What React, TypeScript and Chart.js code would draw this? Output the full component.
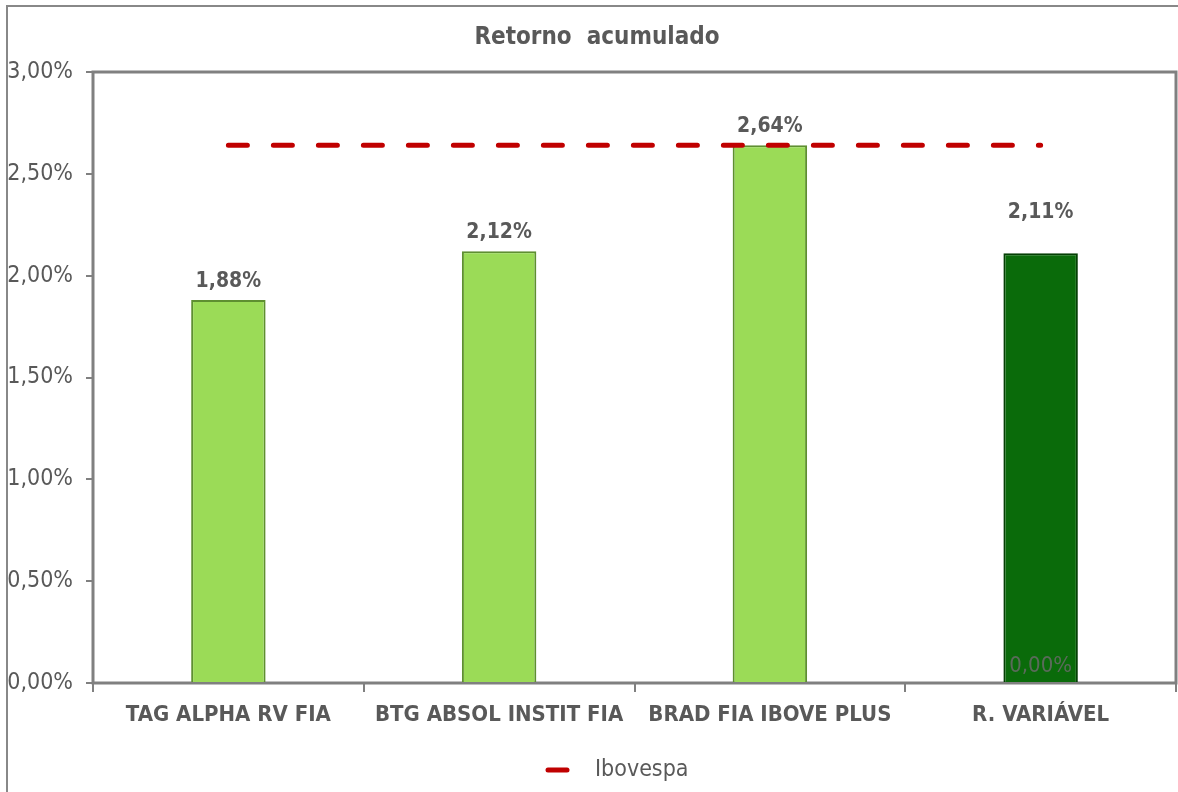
import React, { useEffect, useRef } from "react";
import { Chart, registerables } from "chart.js";

Chart.register(...registerables);

const categories = ["TAG ALPHA RV FIA", "BTG ABSOL INSTIT FIA", "BRAD FIA IBOVE PLUS", "R. VARIÁVEL"];
const retorno = [1.88, 2.12, 2.64, 2.11];
const ibovespa = [2.64, 2.64, 2.64, 2.64];
const extraLabels = [null, null, null, 0];
const yTicks = [0, 0.5, 1, 1.5, 2, 2.5, 3];

const FONT = "'Liberation Sans Narrow', 'DejaVu Sans Condensed', 'Liberation Sans', Arial, sans-serif";
const GRAY = "#595959";
const fmt = (v: number) => v.toFixed(2).replace(".", ",") + "%";

export default function App() {
  const ref = useRef<HTMLCanvasElement>(null);
  useEffect(() => {
    const canvas = ref.current!;
    const frame = {
      id: "frame",
      beforeDatasetsDraw(chart: any) {
        const { ctx, chartArea: a } = chart;
        ctx.save();
        ctx.strokeStyle = "#808080";
        ctx.lineWidth = 3;
        ctx.strokeRect(a.left, a.top, a.right - a.left, a.bottom - a.top);
        ctx.restore();
      },
      afterDraw(chart: any) {
        const { ctx } = chart;
        ctx.save();
        // title
        ctx.fillStyle = GRAY;
        ctx.font = `bold 24px ${FONT}`;
        ctx.textAlign = "center";
        ctx.textBaseline = "middle";
        ctx.fillText("Retorno  acumulado", 597, 38);
        // bar labels
        const meta = chart.getDatasetMeta(1);
        ctx.font = `bold 21px ${FONT}`;
        ctx.textBaseline = "bottom";
        meta.data.forEach((bar: any, i: number) => {
          const off = i === 3 ? 30 : 8;
          ctx.fillText(fmt(retorno[i]), bar.x, bar.y - off);
        });
        const ys = chart.scales.y;
        ctx.font = `22px ${FONT}`;
        extraLabels.forEach((v, i) => {
          if (v === null) return;
          ctx.fillStyle = "#5a6a5a";
          ctx.fillText(fmt(v), meta.data[i].x, ys.getPixelForValue(v) - 6);
        });
        // legend
        ctx.strokeStyle = "#C00000";
        ctx.lineWidth = 5;
        ctx.lineCap = "round";
        ctx.beginPath();
        ctx.moveTo(548, 770);
        ctx.lineTo(567, 770);
        ctx.stroke();
        ctx.fillStyle = GRAY;
        ctx.font = `23px ${FONT}`;
        ctx.textAlign = "left";
        ctx.textBaseline = "middle";
        ctx.fillText("Ibovespa", 595, 770);
        ctx.restore();
      },
    };
    const chart = new Chart(canvas, {
      type: "bar",
      data: {
        labels: categories,
        datasets: [
          {
            type: "line",
            label: "Ibovespa",
            data: ibovespa,
            borderColor: "#C00000",
            borderWidth: 5,
            borderDash: [19, 26],
            borderCapStyle: "round",
            pointRadius: 0,
            fill: false,
            order: 0,
          } as any,
          {
            type: "bar",
            label: "Retorno",
            data: retorno,
            backgroundColor: ["#9BDB57", "#9BDB57", "#9BDB57", "#0A6B0A"],
            borderColor: ["#5E8F30", "#5E8F30", "#5E8F30", "#043F04"],
            borderWidth: 2,
            barPercentage: 0.275,
            categoryPercentage: 1,
            order: 1,
          },
        ],
      },
      options: {
        animation: false,
        responsive: false,
        layout: { padding: { top: 72, right: 2, left: 0, bottom: 0 } },
        plugins: { legend: { display: false }, tooltip: { enabled: false }, title: { display: false } },
        scales: {
          x: {
            offset: true,
            grid: { display: true, drawOnChartArea: false, offset: true, tickLength: 9, color: "#808080", lineWidth: 2 },
            border: { display: false },
            ticks: { color: GRAY, font: { family: FONT, size: 22, weight: "bold" }, padding: 10, maxRotation: 0 },
            afterFit(s: any) { s.height = 109; },
          },
          y: {
            min: 0,
            max: 3,
            afterBuildTicks(s: any) { s.ticks = yTicks.map((v) => ({ value: v })); },
            grid: { display: true, drawOnChartArea: false, tickLength: 7, color: "#808080", lineWidth: 2 },
            border: { display: false },
            ticks: { color: GRAY, font: { family: FONT, size: 23 }, padding: 13, callback: (v: any) => fmt(Number(v)) },
            afterFit(s: any) { s.width = 93; },
          },
        },
      },
      plugins: [frame],
    });
    return () => chart.destroy();
  }, []);
  return (
    <div style={{ position: "fixed", left: 0, top: 0, width: 1178, height: 792, background: "#fff", overflow: "hidden" }}>
      <div style={{ position: "absolute", left: 6, top: 5, width: 1200, height: 820, border: "2px solid #888" }} />
      <canvas ref={ref} width={1178} height={792} style={{ position: "absolute", left: 0, top: 0 }} />
    </div>
  );
}
